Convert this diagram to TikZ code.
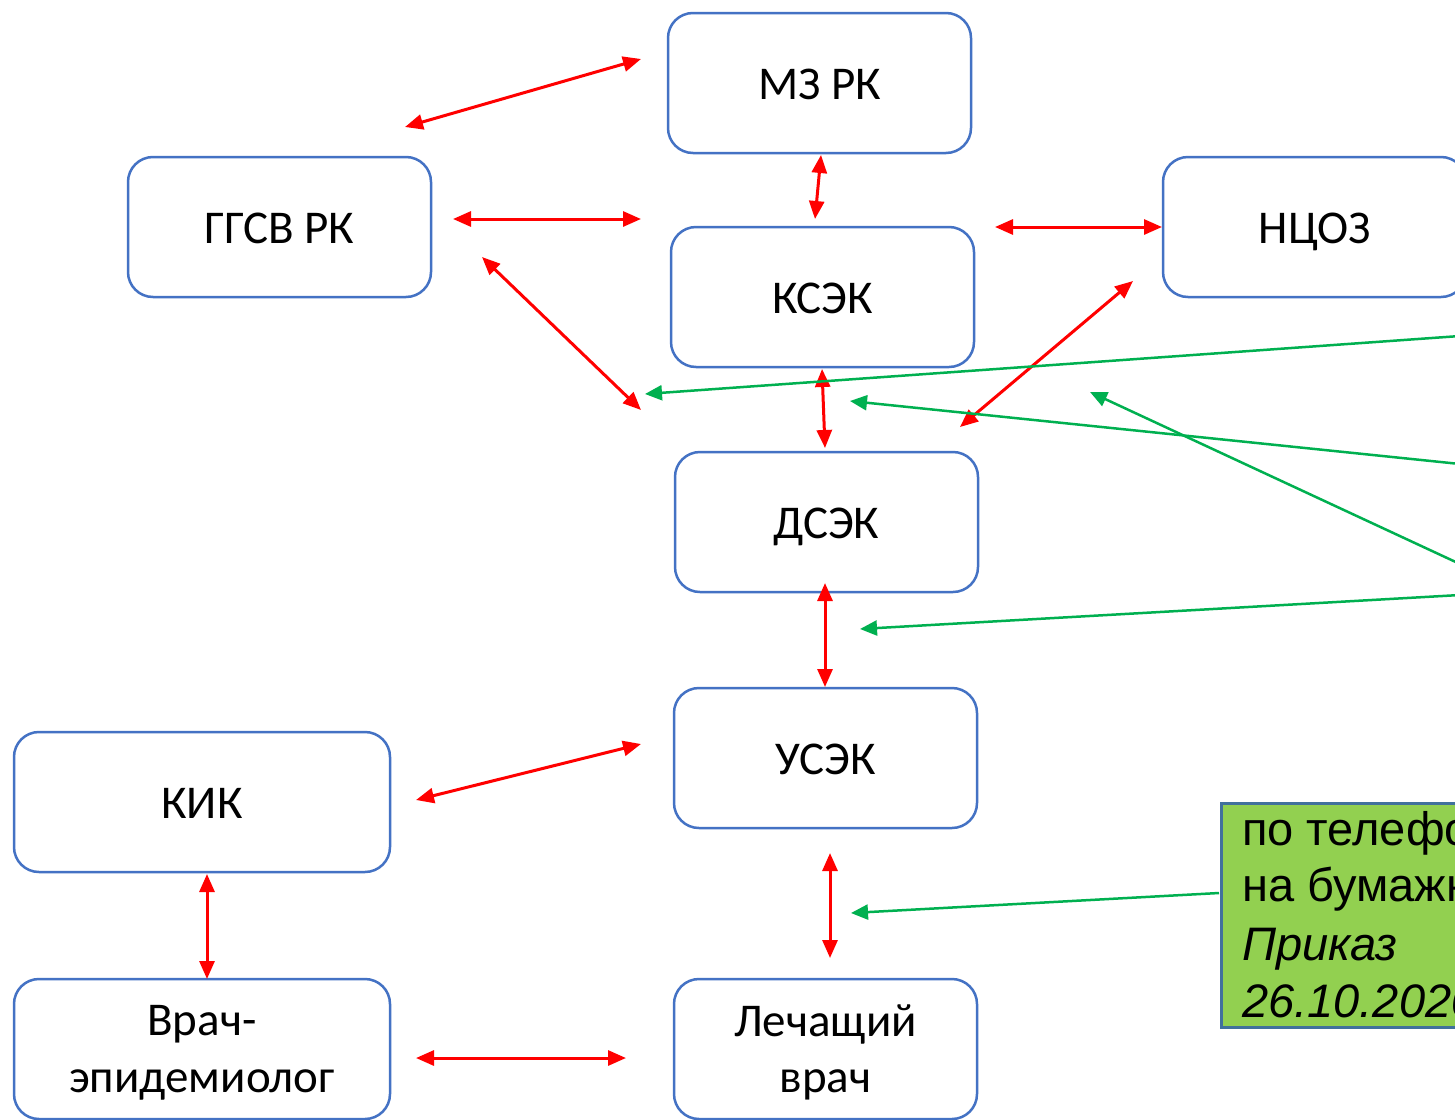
\documentclass[tikz,border=0pt]{standalone}
\usepackage{fontspec}
\setmainfont{Carlito}
\newfontfamily\arialf{Liberation Sans}
\usetikzlibrary{arrows.meta}
\definecolor{boxblue}{HTML}{4472C4}
\definecolor{arrred}{HTML}{FF0000}
\definecolor{arrgreen}{HTML}{00B050}
\definecolor{notefill}{HTML}{92D050}
\definecolor{noteborder}{HTML}{41719C}
\begin{document}
\begin{tikzpicture}[x=1pt,y=-1pt,
  box/.style={draw=boxblue,line width=2.5pt,rounded corners=25pt,minimum width=303pt,minimum height=140pt,inner sep=0pt,font=\fontsize{47}{58}\selectfont,text height=32pt,text depth=0pt,fill=white},
  widebox/.style={box,minimum width=376pt},
  boxtext/.style={anchor=base,inner sep=0pt,font=\fontsize{47}{58}\selectfont},
  redarr/.style={draw=arrred,line width=3pt,{Triangle[length=18pt,width=15pt]}-{Triangle[length=18pt,width=15pt]}},
  grarr/.style={draw=arrgreen,line width=2.5pt,-{Triangle[length=17pt,width=15pt]}},
  notetext/.style={anchor=base west,inner sep=0pt,font=\arialf\fontsize{47}{58}\selectfont}]
\useasboundingbox (0,0) rectangle (1455,1119);
\clip (0,0) rectangle (1455,1119);
\fill[white] (0,0) rectangle (1455,1119);

% boxes
\node[box] (mz) at (819.5,83) {МЗ РК};
\node[box] (ggsv) at (279.5,227) {ГГСВ РК};
\node[box] (ksek) at (822.5,297) {КСЭК};
\node[box] (ncoz) at (1314.5,227) {НЦОЗ};
\node[box] (dsek) at (826.5,522) {ДСЭК};
\node[box] (usek) at (825.5,758) {УСЭК};
\node[widebox] (kik) at (202,802) {КИК};
\node[widebox] (vrach) at (202,1049) {};
\node[boxtext] (vrach1) at (202,1035) {Врач-};
\node[boxtext] (vrach2) at (202,1092) {эпидемиолог};
\node[box] (lech) at (825.5,1049) {};
\node[boxtext] (lech1) at (825.5,1036) {Лечащий};
\node[boxtext] (lech2) at (825.5,1092) {врач};

% note box
\node[draw=noteborder,line width=2.5pt,fill=notefill,anchor=north west,minimum width=300pt,minimum height=224pt,inner sep=0pt] (note) at (1220,802) {};
\node[notetext] (n1) at (1242,845) {по телефону};
\node[notetext] (n2) at (1242,901) {на бумажном};
\node[notetext] (n3) at (1242,960) {\itshape Приказ};
\node[notetext] (n4) at (1242,1017) {\itshape 26.10.2020};

% arrow end points
\coordinate (r1a) at (405,127);  \coordinate (r1b) at (641,59);
\coordinate (r2a) at (821,155);  \coordinate (r2b) at (815,219);
\coordinate (r3a) at (453,219);  \coordinate (r3b) at (641,219);
\coordinate (r4a) at (995,227);  \coordinate (r4b) at (1162,227);
\coordinate (r5a) at (482,257);  \coordinate (r5b) at (641,410);
\coordinate (r6a) at (1133,281); \coordinate (r6b) at (960,427);
\coordinate (r7a) at (822,369);  \coordinate (r7b) at (825,448);
\coordinate (r8a) at (825,583);  \coordinate (r8b) at (825,687);
\coordinate (r9a) at (416,800);  \coordinate (r9b) at (641,744);
\coordinate (r10a) at (207,874); \coordinate (r10b) at (207,979);
\coordinate (r11a) at (830,853); \coordinate (r11b) at (830,958);
\coordinate (r12a) at (416,1058); \coordinate (r12b) at (626,1058);

\coordinate (g1a) at (1460,336); \coordinate (g1b) at (645,394);
\coordinate (g2a) at (1460,464); \coordinate (g2b) at (850,401);
\coordinate (g3a) at (1460,564); \coordinate (g3b) at (1090,392);
\coordinate (g4a) at (1460,595); \coordinate (g4b) at (860,629);
\coordinate (g5a) at (1219,893); \coordinate (g5b) at (851,913);

% red arrows
\foreach \i in {1,...,12} {\draw[redarr] (r\i a) -- (r\i b);}

% green arrows
\foreach \i in {1,...,5} {\draw[grarr] (g\i a) -- (g\i b);}
\end{tikzpicture}
\end{document}
